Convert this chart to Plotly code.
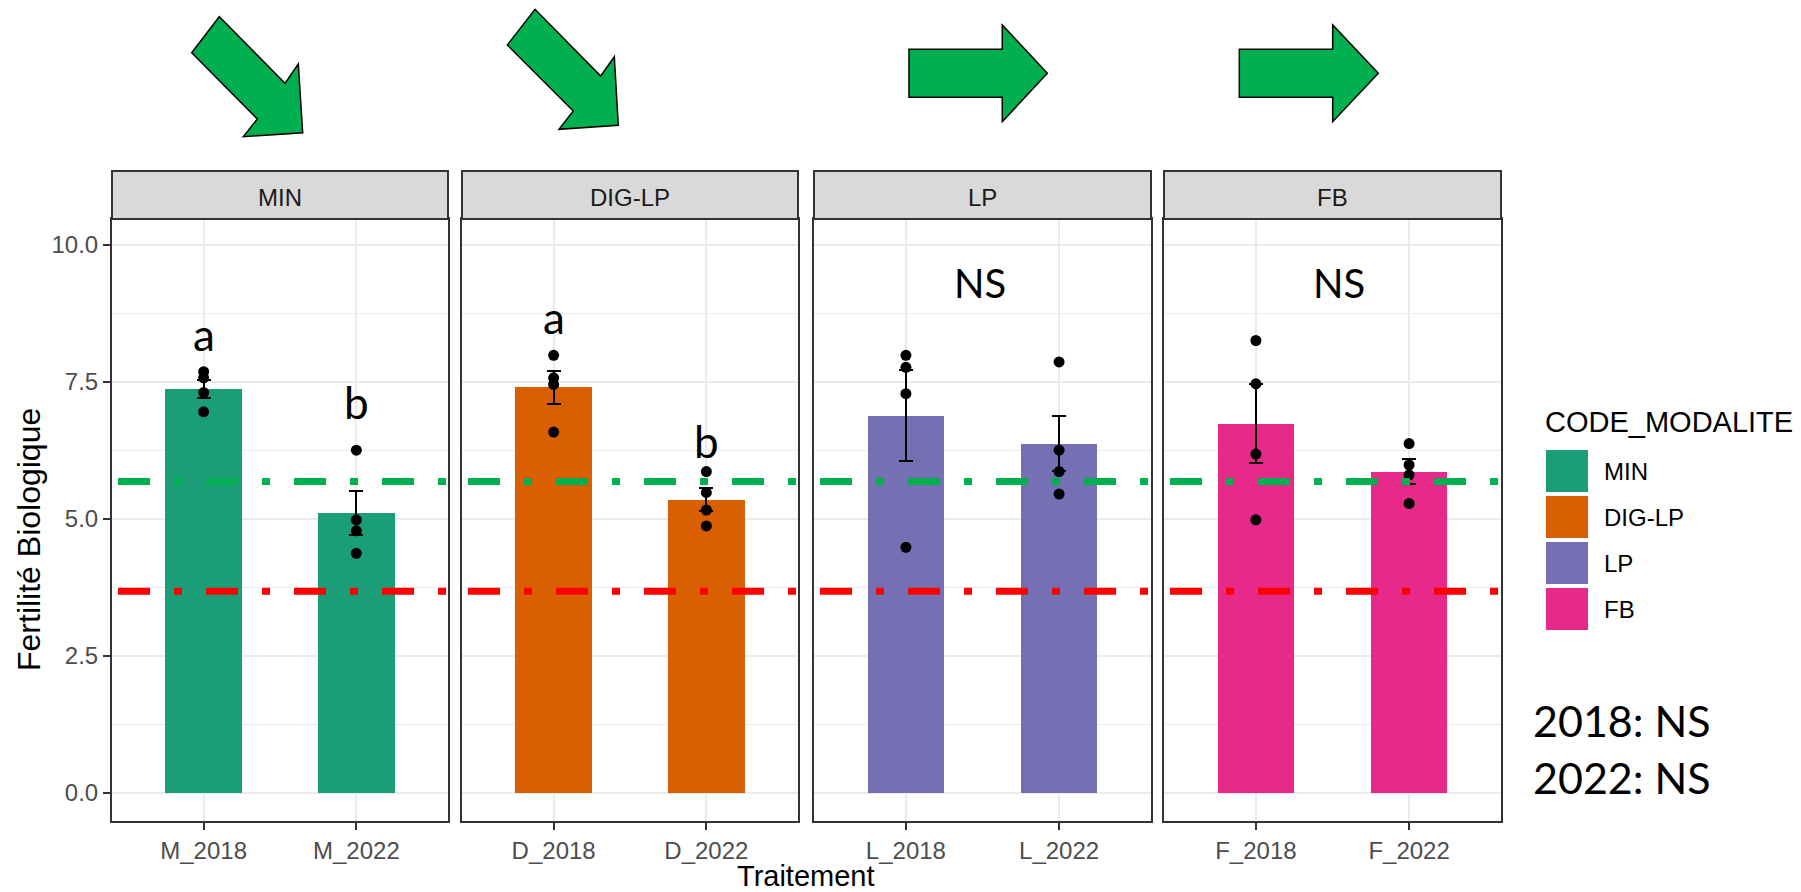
import plotly.graph_objects as go

W, H = 1801, 892

# ---------------- data ----------------
facets = ["MIN", "DIG-LP", "LP", "FB"]
colors = ["#1B9E77", "#D95F02", "#7570B3", "#E7298A"]
categories = [["M_2018", "M_2022"], ["D_2018", "D_2022"],
              ["L_2018", "L_2022"], ["F_2018", "F_2022"]]
means = [[7.37, 5.10], [7.40, 5.35], [6.88, 6.37], [6.73, 5.86]]
se = [[0.16, 0.40], [0.30, 0.215], [0.83, 0.50], [0.72, 0.235]]
points = [
    [[7.68, 7.57, 7.30, 6.95], [6.25, 4.98, 4.78, 4.37]],
    [[7.98, 7.57, 7.45, 6.58], [5.86, 5.48, 5.16, 4.87]],
    [[7.98, 7.76, 7.28, 4.48], [7.86, 6.25, 5.86, 5.45]],
    [[8.25, 7.46, 6.18, 4.98], [6.37, 5.98, 5.80, 5.28]],
]
ref_green = 5.68
ref_red = 3.68
y_tickvals = [0, 2.5, 5, 7.5, 10]
y_ticktext = ["0.0", "2.5", "5.0", "7.5", "10.0"]
y_minor = [1.25, 3.75, 6.25, 8.75]
letters = [["a", "b"], ["a", "b"], None, None]
letter_y = [[8.36, 7.13], [8.67, 6.42], None, None]
panel_ns = [None, None, "NS", "NS"]
side_text = ["2018: NS", "2022: NS"]

# ---------------- layout geometry (pixels) ----------------
panel_x = [(112, 448), (462, 798), (814, 1151), (1164, 1501)]
panel_top, panel_bottom = 219, 821
strip_top = 171
y_range = [-0.510, 10.465]

ARIAL = "Liberation Sans, Arial, sans-serif"
CAL = "Lato, Open Sans, sans-serif"


def px(x):
    return x / W


def py(y):
    return 1 - y / H


fig = go.Figure()
shapes = []
annotations = []

for i in range(4):
    sx = "" if i == 0 else str(i + 1)
    xa, ya = "x" + sx, "y" + sx
    fig.add_trace(go.Bar(
        x=categories[i], y=means[i], width=0.5,
        marker=dict(color=colors[i], line=dict(width=0)),
        error_y=dict(type="data", array=se[i], color="black",
                     thickness=2, width=7),
        xaxis=xa, yaxis=ya, showlegend=False, hoverinfo="skip"))
    px_list, py_list = [], []
    for c, vals in zip(categories[i], points[i]):
        px_list += [c] * len(vals)
        py_list += vals
    fig.add_trace(go.Scatter(
        x=px_list, y=py_list, mode="markers",
        marker=dict(color="black", size=11),
        xaxis=xa, yaxis=ya, showlegend=False, hoverinfo="skip"))

    x0, x1 = panel_x[i]
    fig.layout["xaxis" + sx] = dict(
        domain=[px(x0), px(x1)], type="category", range=[-0.6, 1.6],
        anchor=ya, showline=True, mirror=True, linecolor="#333333",
        linewidth=2, ticks="outside", ticklen=7, tickwidth=1.5,
        tickcolor="#333333", showgrid=True, gridcolor="#EBEBEB",
        gridwidth=2, zeroline=False,
        tickfont=dict(family=ARIAL, size=24, color="#4D4D4D"),
        fixedrange=True)
    fig.layout["yaxis" + sx] = dict(
        domain=[py(panel_bottom), py(panel_top)], range=y_range,
        anchor=xa, showline=True, mirror=True, linecolor="#333333",
        linewidth=2, ticks="outside" if i == 0 else "", ticklen=7,
        tickwidth=1.5, tickcolor="#333333",
        showticklabels=(i == 0), tickmode="array",
        tickvals=y_tickvals, ticktext=y_ticktext,
        showgrid=True, gridcolor="#EBEBEB", gridwidth=2, zeroline=False,
        minor=dict(tickmode="array", tickvals=y_minor, showgrid=True,
                   gridcolor="#EBEBEB", gridwidth=1, ticks=""),
        tickfont=dict(family=ARIAL, size=24, color="#4D4D4D"),
        fixedrange=True)

    # reference lines
    for val, col in [(ref_green, "#00B050"), (ref_red, "#FF0000")]:
        shapes.append(dict(type="line", xref=xa + " domain", yref=ya,
                           x0=0.018, x1=1, y0=val, y1=val, layer="above",
                           line=dict(color=col, width=7,
                                     dash="32px,24px,8px,24px")))
    # strip
    shapes.append(dict(type="rect", xref="paper", yref="paper",
                       x0=px(x0), x1=px(x1), y0=py(panel_top),
                       y1=py(strip_top), fillcolor="#D9D9D9",
                       line=dict(color="#333333", width=2), layer="above"))
    annotations.append(dict(xref="paper", yref="paper",
                            x=px((x0 + x1) / 2), y=py(197),
                            text=facets[i], showarrow=False,
                            xanchor="center", yanchor="middle",
                            font=dict(family=ARIAL, size=24,
                                      color="#1A1A1A")))
    # letters
    if letters[i]:
        for c, t, yy in zip(categories[i], letters[i], letter_y[i]):
            annotations.append(dict(xref=xa, yref=ya, x=c, y=yy, text=t,
                                    showarrow=False, xanchor="center",
                                    yanchor="middle",
                                    font=dict(family=CAL, size=44,
                                              color="black")))
    if panel_ns[i]:
        annotations.append(dict(xref=xa + " domain", yref=ya,
                                x=0.493 if i == 2 else 0.52, y=9.30,
                                text=panel_ns[i], showarrow=False,
                                xanchor="center", yanchor="middle",
                                font=dict(family=CAL, size=40,
                                          color="black")))

# axis titles
annotations.append(dict(xref="paper", yref="paper", x=px(806), y=py(876),
                        text="Traitement", showarrow=False,
                        xanchor="center", yanchor="middle",
                        font=dict(family=ARIAL, size=29, color="black")))
annotations.append(dict(xref="paper", yref="paper", x=px(29), y=py(540),
                        text="Fertilité Biologique", showarrow=False,
                        textangle=-90, xanchor="center", yanchor="middle",
                        font=dict(family=ARIAL, size=32, color="black")))

# legend (manual)
annotations.append(dict(xref="paper", yref="paper", x=px(1543), y=py(422),
                        text="CODE_MODALITE", showarrow=False,
                        xanchor="left", yanchor="middle",
                        font=dict(family=ARIAL, size=29, color="black")))
for k in range(4):
    top = 450 + 46 * k
    shapes.append(dict(type="rect", xref="paper", yref="paper",
                       x0=px(1546), x1=px(1588), y0=py(top + 42), y1=py(top),
                       fillcolor=colors[k], line=dict(width=0)))
    annotations.append(dict(xref="paper", yref="paper", x=px(1602),
                            y=py(top + 21), text=facets[k], showarrow=False,
                            xanchor="left", yanchor="middle",
                            font=dict(family=ARIAL, size=24, color="black")))

# side text
for k, t in enumerate(side_text):
    annotations.append(dict(xref="paper", yref="paper", x=px(1531),
                            y=py(720 + 57 * k), text=t, showarrow=False,
                            xanchor="left", yanchor="middle",
                            font=dict(family=CAL, size=43, color="black")))

# decorative arrows (pixel outlines)
arrows = [
    [(191.7, 52.7), (219.3, 16.7), (285, 83.3), (298.3, 64), (302.7, 132.7),
     (243.3, 136.7), (257.3, 119)],
    [(507.3, 45), (535, 9.3), (600.7, 76), (614.3, 56.7), (618.3, 125.3),
     (559, 129.3), (573.3, 111)],
    [(909, 49.3), (1002.3, 49.3), (1002.3, 25), (1047.3, 73.3),
     (1002.3, 121.7), (1002.3, 97.3), (909, 97.3)],
    [(1239.3, 49.3), (1332.7, 49.3), (1332.7, 25), (1378.3, 73.3),
     (1332.7, 121.7), (1332.7, 97.3), (1239.3, 97.3)],
]
for poly in arrows:
    path = "M " + " L ".join(f"{px(a):.5f},{py(b):.5f}" for a, b in poly) + " Z"
    shapes.append(dict(type="path", xref="paper", yref="paper", path=path,
                       fillcolor="#00B050", line=dict(color="black", width=1.5)))

fig.update_layout(
    width=W, height=H, margin=dict(l=0, r=0, t=0, b=0),
    paper_bgcolor="white", plot_bgcolor="white",
    shapes=shapes, annotations=annotations, showlegend=False,
    bargap=0, font=dict(family=ARIAL),
)

fig.write_html("out.html", config={"displayModeBar": False},
               post_script="document.body.style.margin='0';"
                           "document.body.style.overflow='hidden';")
